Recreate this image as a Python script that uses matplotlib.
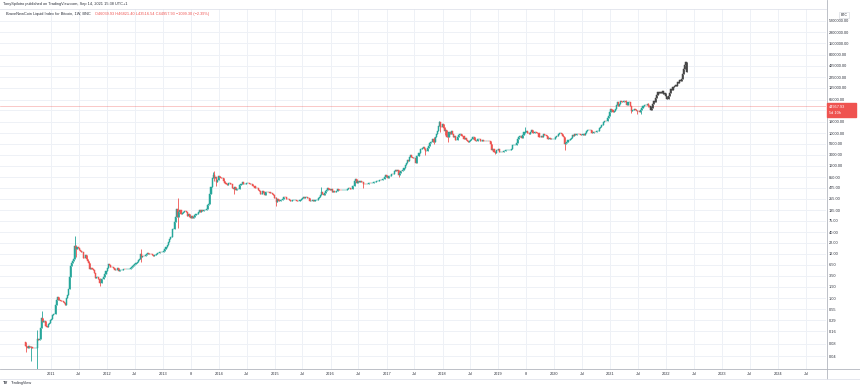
import numpy as np
import pandas as pd
import matplotlib
matplotlib.use("Agg")
import matplotlib.pyplot as plt
import matplotlib.dates as mdates
from matplotlib.lines import Line2D
from matplotlib.patches import Rectangle
from matplotlib.ticker import FixedLocator, FixedFormatter, NullLocator

# ---------------------------------------------------------------------------
# DATA  (weekly closes, weeks starting Monday)
# ---------------------------------------------------------------------------

first_open = 0.0858

close_2010 = [0.071, 0.066, 0.063, 0.070, 0.066, 0.066, 0.063, 0.062, 0.062, 0.062,
              0.062, 0.105, 0.100, 0.102, 0.190, 0.330, 0.260, 0.280, 0.280, 0.210,
              0.200, 0.240, 0.250, 0.300]
close_2011 = [0.32, 0.39, 0.42, 0.42, 0.70, 0.90, 1.05, 0.90, 0.90,
              0.88, 0.87, 0.80, 0.77, 0.70, 1.00, 1.20, 1.70,
              3.30, 6.00, 7.00, 8.20, 8.80, 18.5, 16.0, 17.5, 16.1,
              14.8, 14.2, 13.5, 13.5, 9.70, 9.50, 11.0, 8.90, 8.20,
              7.00, 5.20, 5.40, 5.00, 4.90, 4.00, 3.10, 3.20, 3.30,
              3.00, 2.30, 2.40, 2.90, 3.00, 3.20, 3.90, 4.70]
close_2012 = [5.3, 6.8, 6.3, 5.7, 5.6, 5.8, 5.5, 4.8, 4.9,
              4.9, 5.3, 4.7, 4.9, 4.9, 4.9, 5.2, 5.1, 5.0,
              5.0, 5.0, 5.1, 5.2, 5.3, 5.6, 6.2, 6.4,
              6.7, 7.0, 7.6, 8.6, 9.2, 11.5, 10.2, 10.6, 10.5,
              10.4, 11.0, 11.7, 12.3, 12.0, 12.0, 11.7, 11.0, 10.8,
              10.9, 11.0, 11.9, 12.4, 12.8, 13.5, 13.4, 13.4, 13.4]
close_2013 = [14.2, 15.5, 17.8, 19.6, 22.5, 27.0, 29.9, 31.0,
              46.9, 47.0, 71.5, 91.0, 142, 92, 120, 134, 112,
              117, 122, 133, 129, 120, 100, 107, 95,
              89, 98, 90, 95, 106, 108, 113, 121, 135,
              126, 138, 127, 134, 134, 140, 145, 180, 196,
              340, 490, 800, 960, 800, 870, 640, 735, 940]
close_2014 = [880, 820, 810, 815, 690, 620, 600, 560,
              630, 630, 585, 580, 460, 440, 485, 430, 440,
              440, 445, 570, 575, 650, 590, 595, 595, 630,
              630, 620, 600, 590, 590, 530, 510, 480,
              480, 475, 410, 405, 330, 330, 390, 360, 325,
              370, 380, 370, 380, 350, 350, 330, 320, 265]
close_2015 = [270, 210, 250, 225, 225, 235, 245, 255,
              290, 285, 260, 250, 255, 235, 225, 225, 235,
              240, 240, 240, 230, 225, 230, 245, 250, 270,
              290, 275, 280, 290, 265, 265, 230, 230, 230,
              240, 230, 235, 240, 245, 265, 285, 325,
              375, 330, 325, 360, 390, 415, 460, 440, 430]
close_2016 = [445, 385, 400, 370, 385, 405, 435, 425, 420,
              412, 410, 415, 416, 420, 430, 445, 465,
              460, 455, 440, 530, 530, 680, 765, 630, 700,
              650, 680, 655, 655, 590, 575, 580, 575, 575,
              605, 610, 605, 610, 615, 640, 655, 700, 705,
              705, 740, 735, 750, 770, 785, 890, 960]
close_2017 = [905, 830, 920, 920, 1010, 1000, 1050, 1180, 1260,
              1230, 1245, 975, 1110, 1210, 1200, 1250, 1420,
              1700, 1850, 2280, 2080, 2570, 2950, 2600, 2500, 2500,
              2510, 1910, 2750, 2750, 3250, 4050, 4080, 4360, 4720,
              4230, 3690, 3790, 4350, 4770, 5700, 6000, 6150, 7400,
              5950, 8000, 9300, 11300, 15000, 19100, 13900, 13850]
close_2018 = [16200, 13600, 11500, 11800, 8200, 8100, 10400, 9600, 11500,
              9500, 8200, 8500, 6900, 7000, 8000, 8900, 9350, 9650,
              8700, 8500, 7350, 7700, 6700, 6450, 6200, 6400,
              6700, 7350, 8200, 8200, 7000, 6300, 6400, 7050, 7200,
              6300, 6500, 6700, 6600, 6600, 6400, 6500, 6400, 6400,
              6350, 5600, 4000, 4100, 3500, 3250, 4000, 3900, 4050]
close_2019 = [3500, 3550, 3550, 3450, 3650, 3650, 3800, 3850,
              3950, 4000, 4000, 4100, 5050, 5150, 5300, 5300, 5750,
              7250, 8000, 8700, 8700, 7650, 8950, 10700, 10800,
              11300, 10200, 9800, 9550, 10800, 11600, 10300, 10150, 10400,
              10400, 10300, 10000, 8050, 7850, 8300, 8200, 9550, 9200,
              8800, 8500, 7100, 7400, 7500, 7100, 7300, 7300, 7350]
close_2020 = [8200, 8700, 8350, 9400, 9900, 9900, 9700, 8700,
              8000, 5350, 5800, 6250, 6800, 6900, 7100, 7700, 8900,
              8700, 9700, 8900, 9450, 9750, 9350, 9300, 9000, 9100,
              9300, 9200, 9950, 11100, 11650, 11850, 11700, 11700, 10250,
              10300, 10900, 10750, 10650, 11350, 11500, 13100, 13800,
              15500, 16000, 18400, 19700, 19150, 19250, 23800, 26500, 33100]
close_2021 = [38200, 36000, 32300, 34300, 39300, 48600, 57500, 45200,
              51000, 59000, 57400, 55900, 59000, 59800, 56200, 49100, 56600,
              58300, 46500, 34700, 35700, 35800, 39100, 35600, 34700, 35300,
              34300, 31800, 35400, 39900, 44500, 47000, 49300, 48800, 49900,
              46057.23, 44957.93]

# weeks with notable wicks: (high, low)
wick_marks = {
    "2010-07-19": (0.0858, 0.05), "2010-08-23": (0.070, 0.03),
    "2010-10-04": (0.17, 0.01), "2010-11-01": (0.50, 0.19),
    "2011-06-06": (31.9, 10.0), "2011-06-13": (19.0, 10.0),
    "2011-11-14": (3.1, 2.0), "2012-08-13": (15.4, 7.5),
    "2013-04-08": (266, 50), "2013-11-25": (1160, 800),
    "2013-12-02": (1240, 700), "2013-12-16": (720, 520),
    "2014-04-07": (480, 340), "2015-01-12": (280, 170),
    "2015-11-02": (500, 330), "2016-06-13": (780, 670),
    "2016-08-01": (630, 480), "2017-03-20": (1060, 890),
    "2017-07-10": (2550, 1840), "2017-09-11": (4400, 2970),
    "2017-11-06": (7900, 5500), "2017-12-11": (19700, 15000),
    "2017-12-18": (19100, 10800), "2018-01-15": (13700, 9200),
    "2018-02-05": (8600, 6000), "2018-12-10": (3600, 3150),
    "2019-06-24": (13800, 10300), "2020-03-09": (8000, 3850),
    "2021-04-12": (64900, 53000), "2021-05-17": (46500, 30000),
    "2021-06-21": (36000, 28800), "2021-07-19": (35500, 29300),
    "2021-09-06": (52900, 42800), "2021-09-13": (46821.40, 43516.54),
}

# projected (gray) weekly closes drawn after the last real bar
proj_closes = [36000, 41000, 52000, 60000, 58000, 70000, 85000, 98000, 92000,
               100000, 95000, 104000, 88000, 94000, 80000, 68000, 66000, 78000,
               95000, 115000, 108000, 130000, 137000, 150000, 140000, 175000,
               160000, 190000, 180000, 210000, 270000, 360000, 450000, 520000,
               310000]

price_ticks = [0.04, 0.08, 0.16, 0.29, 0.55, 1.00, 1.90, 3.50, 6.50, 12, 22, 40,
               75, 135, 255, 475, 850, 1600, 3000, 5600, 10000, 19000, 36000,
               65000, 125000, 225000, 425000, 800000, 1500000, 2800000, 5200000]

x_tick_dates = ["2011-01-01", "2011-07-01", "2012-01-01", "2012-07-01",
                "2013-01-01", "2013-07-01", "2014-01-01", "2014-07-01",
                "2015-01-01", "2015-07-01", "2016-01-01", "2016-07-01",
                "2017-01-01", "2017-07-01", "2018-01-01", "2018-07-01",
                "2019-01-01", "2019-07-01", "2020-01-01", "2020-07-01",
                "2021-01-01", "2021-07-01", "2022-01-01", "2022-07-01",
                "2023-01-01", "2023-07-01", "2024-01-01", "2024-07-01"]
x_tick_labels = ["2011", "Jul", "2012", "Jul", "2013", "8", "2014", "Jul",
                 "2015", "Jul", "2016", "Jul", "2017", "Jul", "2018", "Jul",
                 "2019", "8", "2020", "Jul", "2021", "Jul", "2022", "Jul",
                 "2023", "Jul", "2024", "Jul"]

last_price = 44957.93

# ---------------------------------------------------------------------------
# STYLE / LAYOUT
# ---------------------------------------------------------------------------

W, H, DPI = 860, 391, 100
UP, DOWN, PROJ = "#26a69a", "#ef5350", "#454545"
GRID = "#eef1f6"
TXT = "#2a2e39"
FS = 2.8

plt.rcParams["font.family"] = ["Liberation Sans", "DejaVu Sans"]


def fx(px):
    return px / W


def fy(py):
    return 1 - py / H


def draw_candles(ax, dates, o, h, l, c, up, down):
    x = mdates.date2num(dates)
    col = np.where(c >= o, up, down)
    ax.vlines(x, l, h, colors=col, lw=0.6, zorder=3)
    ax.bar(x, np.abs(c - o), bottom=np.minimum(o, c), width=7,
           color=col, edgecolor=col, lw=0.35, zorder=4)


closes = np.array(close_2010 + close_2011 + close_2012 + close_2013 + close_2014 +
                  close_2015 + close_2016 + close_2017 + close_2018 + close_2019 +
                  close_2020 + close_2021, dtype=float)
weeks = pd.date_range("2010-07-19", periods=len(closes), freq="7D")
opens = np.concatenate([[first_open], closes[:-1]])
highs = np.maximum(opens, closes)
lows = np.minimum(opens, closes)
for d, (hi, lo) in wick_marks.items():
    i = weeks.get_loc(pd.Timestamp(d))
    highs[i] = max(highs[i], hi)
    lows[i] = min(lows[i], lo)

pc = np.array(proj_closes, dtype=float)
proj_weeks = pd.date_range(weeks[-1] + pd.Timedelta(days=7), periods=len(pc), freq="7D")
po = np.concatenate([[last_price], pc[:-1]])

fig = plt.figure(figsize=(W / DPI, H / DPI), dpi=DPI)
ax = fig.add_axes([0, fy(369), fx(826), (369 - 9) / H])

draw_candles(ax, weeks, opens, highs, lows, closes, UP, DOWN)
draw_candles(ax, proj_weeks, po, np.maximum(po, pc), np.minimum(po, pc), pc, PROJ, PROJ)
ax.axhline(last_price, color=DOWN, lw=0.5, alpha=0.45, zorder=2)

ax.set_yscale("log")
ax.set_ylim(0.0194, 1.014e7)
ax.set_xlim(mdates.datestr2num("2010-02-02"), mdates.datestr2num("2024-11-09"))

ax.yaxis.tick_right()
ax.yaxis.set_major_locator(FixedLocator(price_ticks))
ax.yaxis.set_major_formatter(FixedFormatter([f"{v:.2f}" for v in price_ticks]))
ax.yaxis.set_minor_locator(NullLocator())
ax.xaxis.set_major_locator(FixedLocator(mdates.datestr2num(x_tick_dates)))
ax.xaxis.set_major_formatter(FixedFormatter(x_tick_labels))
ax.xaxis.set_minor_locator(NullLocator())
ax.tick_params(axis="y", length=0, pad=2.2, labelsize=FS, labelcolor=TXT)
ax.tick_params(axis="x", length=0, pad=2.4, labelsize=FS, labelcolor=TXT)
ax.grid(True, color=GRID, lw=0.7, zorder=0)
ax.set_axisbelow(True)
for side in ["left", "right", "bottom"]:
    ax.spines[side].set_visible(False)
ax.spines["top"].set_color("#e0e3eb")
ax.spines["top"].set_linewidth(0.6)

# frame lines of the chart pane
fig.add_artist(Line2D([fx(826.5), fx(826.5)], [fy(0), fy(379)], color="#b2b5be", lw=0.6))
fig.add_artist(Line2D([0, 1], [fy(369), fy(369)], color="#b2b5be", lw=0.6))
fig.add_artist(Line2D([0, 1], [fy(379), fy(379)], color="#e0e3eb", lw=0.6))

# header
fig.text(fx(3), fy(4), "TonySpilotro published on TradingView.com, Sep 14, 2021 15:38 UTC+1",
         fontsize=FS, color=TXT, va="center", ha="left")
name = fig.text(fx(6), fy(14), "BraveNewCoin Liquid Index for Bitcoin, 1W, BNC",
                fontsize=FS, color=TXT, va="center", ha="left")
fig.canvas.draw()
bb = name.get_window_extent()
fig.text(fx(bb.x1 + 4), fy(14),
         "O46039.93 H46821.40 L43516.54 C44957.93 \u22121099.30 (\u22122.39%)",
         fontsize=FS, color=DOWN, va="center", ha="left")

# currency badge and last price label
fig.text(fx(844), fy(15), "BTC", fontsize=2.5, color=TXT, ha="center", va="center",
         bbox=dict(boxstyle="square,pad=0.3", fc="white", ec="#d1d4dc", lw=0.4))
fig.add_artist(Rectangle((fx(827), fy(117)), fx(29), (117 - 103) / H,
                         transform=fig.transFigure, color=DOWN, zorder=5))
fig.text(fx(829), fy(107), "44957.93", fontsize=FS, color="white", va="center",
         ha="left", zorder=6)
fig.text(fx(829), fy(113.5), "5d 10h", fontsize=FS, color="white", va="center",
         ha="left", zorder=6)

# footer
fig.text(fx(3), fy(383), "TV", fontsize=3.0, color=TXT, weight="bold", va="center", ha="left")
fig.text(fx(11), fy(383), "TradingView", fontsize=FS, color=TXT, va="center", ha="left")

fig.savefig("out.png", dpi=DPI)
